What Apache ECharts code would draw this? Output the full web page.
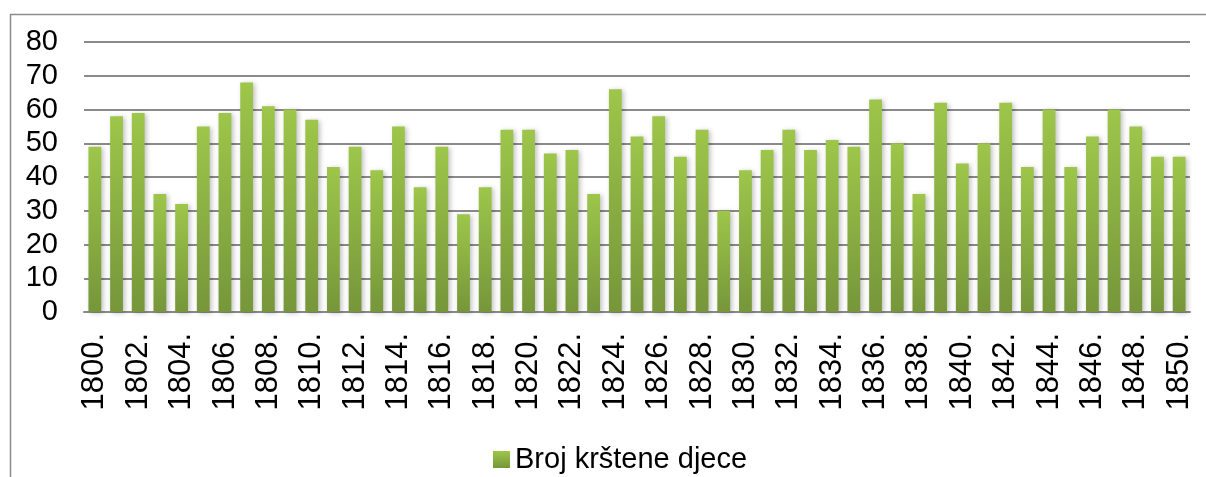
<!DOCTYPE html>
<html>
<head>
<meta charset="utf-8">
<script src="https://cdn.jsdelivr.net/npm/echarts@6/dist/echarts.min.js"></script>
<style>
html,body{margin:0;padding:0;background:#fff;}
#c{width:1206px;height:477px;}
</style>
</head>
<body>
<div id="c"></div>
<script>
var years = [];
for (var y = 1800; y <= 1850; y++) years.push(y + '.');
var seriesName = 'Broj krštene djece';
var values = [49,58,59,35,32,55,59,68,61,60,57,43,49,42,55,37,49,29,37,54,54,47,48,35,66,52,58,46,54,30,42,48,54,48,51,49,63,50,35,62,44,50,62,43,60,43,52,60,55,46,46];
var yMin = 0, yMax = 80, yStep = 10;

var chart = echarts.init(document.getElementById('c'), null, {renderer:'canvas'});
var font = 'Liberation Sans, Arial, sans-serif';
chart.setOption({
  animation: false,
  backgroundColor: '#ffffff',
  graphic: [{
    type: 'rect', left: 8, top: 12, z: -1,
    shape: {width: 1220, height: 500},
    style: {fill: 'none', stroke: '#8c8c8c', lineWidth: 1.5}
  }],
  grid: {left: 84, right: 16, top: 42, bottom: 165, containLabel: false},
  legend: {
    bottom: -2, left: 488,
    itemWidth: 17, itemHeight: 17, itemGap: 6,
    icon: 'rect',
    textStyle: {fontFamily: font, fontSize: 29, color: '#000', padding: [0, 0, 0, 0]},
    data: [seriesName]
  },
  xAxis: {
    type: 'category', data: years,
    axisLine: {show: true, lineStyle: {color: '#8a8a8a', width: 2}},
    axisTick: {show: false},
    axisLabel: {interval: 1, rotate: 90, margin: 21, fontFamily: font, fontSize: 31, color: '#000'}
  },
  yAxis: {
    type: 'value', min: yMin, max: yMax, interval: yStep,
    axisLine: {show: false}, axisTick: {show: false},
    splitLine: {lineStyle: {color: '#8a8a8a', width: 2}},
    axisLabel: {margin: 26, fontFamily: font, fontSize: 29, color: '#000'}
  },
  series: [{
    name: seriesName, type: 'bar', data: values, barWidth: '59%',
    itemStyle: {
      color: new echarts.graphic.LinearGradient(0, 0, 0, 1, [
        {offset: 0, color: '#9dc64a'}, {offset: 1, color: '#76963a'}
      ]),
      shadowColor: 'rgba(0,0,0,0.25)', shadowBlur: 5, shadowOffsetX: 2, shadowOffsetY: 1
    }
  }]
});
</script>
</body>
</html>
